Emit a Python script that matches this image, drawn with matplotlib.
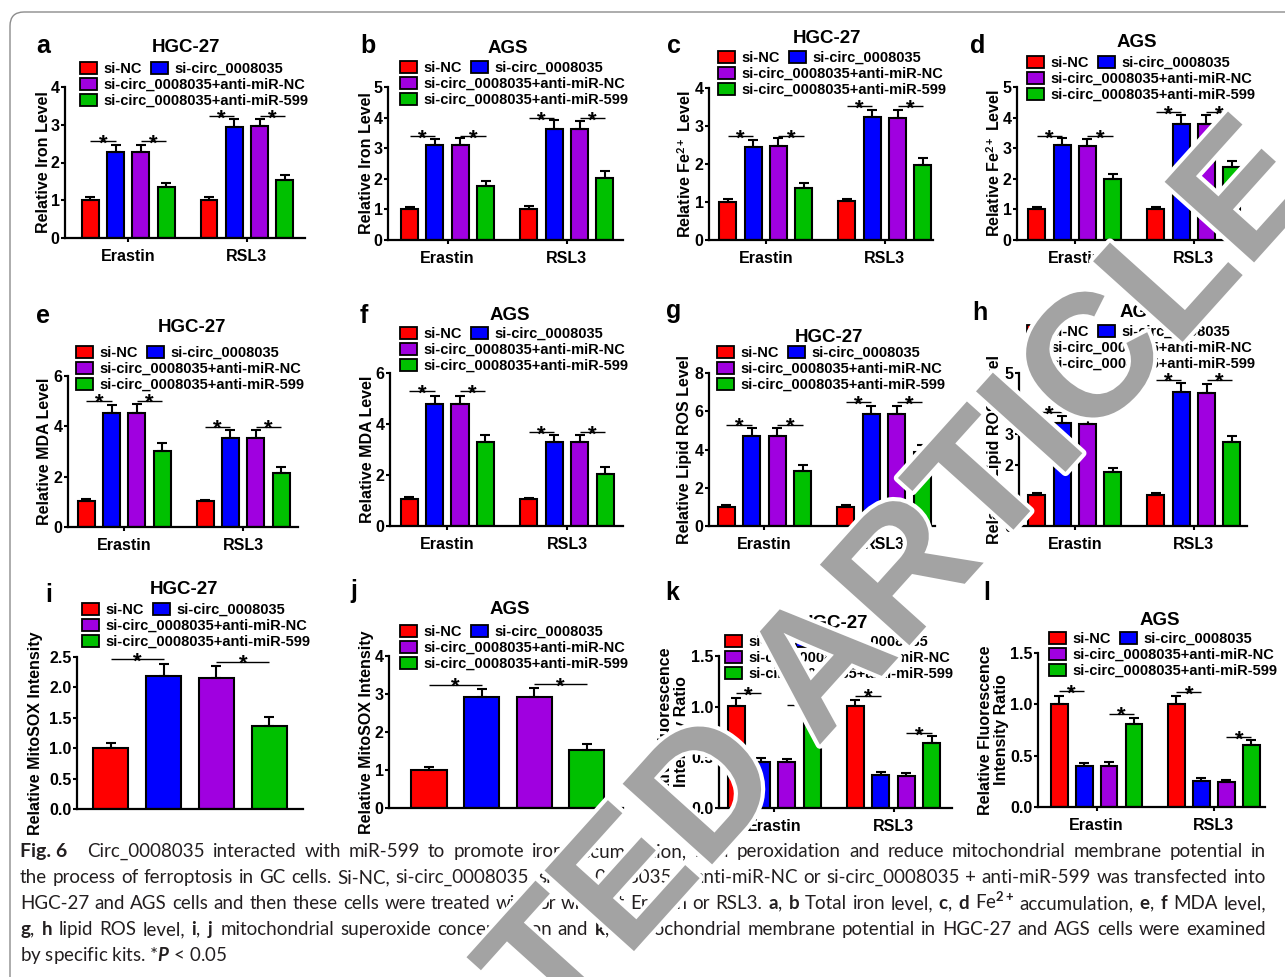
import numpy as np
import matplotlib
matplotlib.use('Agg')
import matplotlib.pyplot as plt
import matplotlib.patheffects as pe
from matplotlib.patches import Rectangle, FancyBboxPatch
from matplotlib.transforms import IdentityTransform

plt.rcParams['font.family'] = ['Liberation Sans', 'DejaVu Sans']
plt.rcParams['font.weight'] = 'bold'
plt.rcParams['mathtext.fontset'] = 'custom'
plt.rcParams['mathtext.rm'] = 'Lato'
plt.rcParams['mathtext.it'] = 'Lato:italic'
plt.rcParams['mathtext.bf'] = 'Lato:bold'

# ---- data ----
groups = ['si-NC', 'si-circ_0008035', 'si-circ_0008035+anti-miR-NC', 'si-circ_0008035+anti-miR-599']
bar_colors = ['#ff0000', '#0000ff', '#a000e0', '#00c000']
treatments = ['Erastin', 'RSL3']

iron_hgc = [1.01, 2.28, 2.29, 1.35, 1.01, 2.95, 2.96, 1.54]
iron_hgc_err = [0.08, 0.18, 0.17, 0.11, 0.07, 0.19, 0.20, 0.14]
iron_hgc_sig = [2.57, 2.57, 3.23, 3.23]

iron_ags = [1.01, 3.10, 3.12, 1.77, 1.01, 3.63, 3.62, 2.03]
iron_ags_err = [0.08, 0.19, 0.21, 0.15, 0.09, 0.28, 0.26, 0.22]
iron_ags_sig = [3.40, 3.40, 3.99, 3.99]

fe_hgc = [1.01, 2.44, 2.48, 1.38, 1.02, 3.23, 3.21, 1.97]
fe_hgc_err = [0.08, 0.20, 0.20, 0.13, 0.06, 0.20, 0.22, 0.18]
fe_hgc_sig = [2.73, 2.73, 3.52, 3.52]

fe_ags = [1.01, 3.10, 3.08, 1.99, 1.01, 3.80, 3.80, 2.38]
fe_ags_err = [0.08, 0.22, 0.22, 0.18, 0.08, 0.27, 0.27, 0.20]
fe_ags_sig = [3.40, 3.40, 4.18, 4.18]

mda_hgc = [1.02, 4.52, 4.54, 3.02, 1.02, 3.55, 3.55, 2.14]
mda_hgc_err = [0.08, 0.33, 0.33, 0.31, 0.06, 0.31, 0.31, 0.26]
mda_hgc_sig = [5.02, 5.02, 3.99, 3.99]

mda_ags = [1.05, 4.78, 4.78, 3.28, 1.05, 3.29, 3.29, 2.04]
mda_ags_err = [0.07, 0.30, 0.30, 0.30, 0.05, 0.29, 0.29, 0.27]
mda_ags_sig = [5.28, 5.28, 3.68, 3.68]

ros_hgc = [1.00, 4.73, 4.73, 2.89, 1.00, 5.85, 5.85, 3.89]
ros_hgc_err = [0.08, 0.42, 0.42, 0.31, 0.08, 0.44, 0.40, 0.33]
ros_hgc_sig = [5.29, 5.29, 6.48, 6.48]

ros_ags = [1.00, 3.35, 3.33, 1.77, 1.00, 4.38, 4.34, 2.76]
ros_ags_err = [0.08, 0.25, 0.25, 0.11, 0.08, 0.29, 0.30, 0.19]
ros_ags_sig = [3.72, 3.72, 4.78, 4.78]

mitosox_hgc = [1.00, 2.18, 2.16, 1.37]
mitosox_hgc_err = [0.08, 0.20, 0.20, 0.14]
mitosox_hgc_sig = [2.46, 2.42]

mitosox_ags = [1.01, 2.91, 2.93, 1.53]
mitosox_ags_err = [0.07, 0.22, 0.22, 0.15]
mitosox_ags_sig = [3.24, 3.26]

mmp_hgc = [1.01, 0.45, 0.45, 0.90, 1.01, 0.33, 0.32, 0.64]
mmp_hgc_err = [0.08, 0.04, 0.03, 0.07, 0.06, 0.03, 0.03, 0.07]
mmp_hgc_sig = [1.13, 1.02, 1.11, 0.74]

mmp_ags = [1.00, 0.40, 0.40, 0.81, 1.00, 0.25, 0.24, 0.60]
mmp_ags_err = [0.08, 0.03, 0.04, 0.06, 0.08, 0.03, 0.02, 0.05]
mmp_ags_sig = [1.13, 0.91, 1.12, 0.68]

caption_lines = [
    "Circ_0008035 interacted with miR-599 to promote iron accumulation, lipid peroxidation and reduce mitochondrial membrane potential in",
    "the process of ferroptosis in GC cells. Si-NC, si-circ_0008035, si-circ_0008035 + anti-miR-NC or si-circ_0008035 + anti-miR-599 was transfected into",
    r"HGC-27 and AGS cells and then these cells were treated with or without Erastin or RSL3. $\mathbf{a}$, $\mathbf{b}$ Total iron level, $\mathbf{c}$, $\mathbf{d}$ Fe$^{2+}$ accumulation, $\mathbf{e}$, $\mathbf{f}$ MDA level,",
    r"$\mathbf{g}$, $\mathbf{h}$ lipid ROS level, $\mathbf{i}$, $\mathbf{j}$ mitochondrial superoxide concentration and $\mathbf{k}$, $\mathbf{l}$ mitochondrial membrane potential in HGC-27 and AGS cells were examined",
    r"by specific kits. *$P$ < 0.05",
]

W, H = 1285, 977
fig = plt.figure(figsize=(W / 100, H / 100), dpi=100)
fig.patch.set_facecolor('white')

bar_x = [0, 1, 2, 3, 4.7, 5.7, 6.7, 7.7]

fe_label = r'Relative Fe$^{\mathbf{2+}}$ Level'
mmp_label = 'Relative Fluorescence\nIntensity Ratio'

panels = [
    dict(letter='a', title='HGC-27', ylabel='Relative Iron Level', vals=iron_hgc, err=iron_hgc_err, sig=iron_hgc_sig,
         ymax=4, step=1, box=(65, 305, 87, 238), xlim=(-1.0, 8.5), lpos=(36, 53), tpos=(186, 52), leg=(80, 68), ylx=48),
    dict(letter='b', title='AGS', ylabel='Relative Iron Level', vals=iron_ags, err=iron_ags_err, sig=iron_ags_sig,
         ymax=5, step=1, box=(388, 623, 87, 240), xlim=(-0.85, 8.41), lpos=(360, 53), tpos=(508, 53), leg=(400, 67), ylx=371),
    dict(letter='c', title='HGC-27', ylabel=fe_label, vals=fe_hgc, err=fe_hgc_err, sig=fe_hgc_sig,
         ymax=4, step=1, box=(709, 933, 88, 240), xlim=(-0.74, 8.1), lpos=(667, 53), tpos=(827, 43), leg=(718, 57), ylx=691),
    dict(letter='d', title='AGS', ylabel=fe_label, vals=fe_ags, err=fe_ags_err, sig=fe_ags_sig,
         ymax=5, step=1, box=(1017, 1247, 87, 240), xlim=(-0.78, 8.3), lpos=(970, 53), tpos=(1137, 47), leg=(1027, 62), ylx=1000),
    dict(letter='e', title='HGC-27', ylabel='Relative MDA Level', vals=mda_hgc, err=mda_hgc_err, sig=mda_hgc_sig,
         ymax=6, step=2, box=(68, 298, 376, 527), xlim=(-0.72, 8.37), lpos=(36, 323), tpos=(192, 332), leg=(76, 352), ylx=49),
    dict(letter='f', title='AGS', ylabel='Relative MDA Level', vals=mda_ags, err=mda_ags_err, sig=mda_ags_sig,
         ymax=6, step=2, box=(390, 623, 373, 526), xlim=(-0.75, 8.4), lpos=(360, 323), tpos=(510, 320), leg=(400, 333), ylx=372),
    dict(letter='g', title='HGC-27', ylabel='Relative Lipid ROS Level', vals=ros_hgc, err=ros_hgc_err, sig=ros_hgc_sig,
         ymax=8, step=2, box=(709, 935, 373, 526), xlim=(-0.68, 8.2), lpos=(666, 318), tpos=(829, 342), leg=(717, 352), ylx=689),
    dict(letter='h', title='AGS', ylabel='Relative Lipid ROS Level', vals=ros_ags, err=ros_ags_err, sig=ros_ags_sig,
         ymax=5, step=1, box=(1019, 1247, 373, 526), xlim=(-0.71, 8.3), lpos=(972, 320), tpos=(1140, 317), leg=(1027, 331), ylx=999),
    dict(letter='i', title='HGC-27', ylabel='Relative MitoSOX Intensity', vals=mitosox_hgc, err=mitosox_hgc_err,
         sig=mitosox_hgc_sig, ymax=2.5, step=0.5, box=(77, 303, 657, 809), xlim=(-0.64, 3.64), lpos=(45, 602),
         tpos=(184, 594), leg=(82, 609), ylx=40),
    dict(letter='j', title='AGS', ylabel='Relative MitoSOX Intensity', vals=mitosox_ags, err=mitosox_ags_err,
         sig=mitosox_ags_sig, ymax=4, step=1, box=(389, 623, 656, 808), xlim=(-0.76, 3.69), lpos=(350, 598),
         tpos=(510, 614), leg=(400, 631), ylx=371),
    dict(letter='k', title='HGC-27', ylabel=mmp_label, vals=mmp_hgc, err=mmp_hgc_err, sig=mmp_hgc_sig,
         ymax=1.5, step=0.5, box=(719, 952, 656, 808), xlim=(-0.67, 8.5), lpos=(665, 600), tpos=(834, 628), leg=(725, 641), ylx=686),
    dict(letter='l', title='AGS', ylabel=mmp_label, vals=mmp_ags, err=mmp_ags_err, sig=mmp_ags_sig,
         ymax=1.5, step=0.5, box=(1038, 1265, 653, 807), xlim=(-0.85, 8.25), lpos=(983, 600), tpos=(1160, 625), leg=(1049, 638), ylx=1006),
]


def fy(y):
    return 1 - y / H


def draw_legend(x0, y0):
    xs = [x0, x0 + 71, x0, x0]
    ys = [y0, y0, y0 + 16, y0 + 32]
    for name, c, xx, yy in zip(groups, bar_colors, xs, ys):
        fig.add_artist(Rectangle((xx / W, fy(yy + 6)), 17 / W, 12 / H, transform=fig.transFigure,
                                 facecolor=c, edgecolor='black', lw=1.3, zorder=5))
        fig.text((xx + 23) / W, fy(yy + 5), name, fontsize=10.5, fontweight='bold', va='baseline', zorder=5)


def draw_panel(p):
    L, R, top, bot = p['box']
    ax = fig.add_axes([L / W, fy(bot), (R - L) / W, (bot - top) / H])
    n = len(p['vals'])
    x = np.array(bar_x[:n])
    ax.bar(x, p['vals'], width=0.67, color=(bar_colors * 2)[:n], edgecolor='black', linewidth=1.5, zorder=2)
    ax.errorbar(x, p['vals'], yerr=[np.zeros(n), p['err']], fmt='none', ecolor='black',
                elinewidth=1.5, capsize=3.3, capthick=1.5, zorder=3)
    for k, h in enumerate(p['sig']):
        x0, x1 = x[2 * k], x[2 * k + 1]
        ax.plot([x0, x1], [h, h], color='black', lw=1.0, solid_capstyle='butt', clip_on=False, zorder=3)
        ax.annotate('*', xy=((x0 + x1) / 2, h), xytext=(0, -6), textcoords='offset points',
                    ha='center', va='baseline', fontsize=16, fontweight='bold')
    ax.set_xlim(p['xlim'])
    ax.set_ylim(0, p['ymax'])
    ticks = np.arange(0, p['ymax'] + 1e-9, p['step'])
    ax.set_yticks(ticks)
    if p['step'] < 1:
        ax.set_yticklabels(['%.1f' % t for t in ticks])
    else:
        ax.set_yticklabels(['%d' % t for t in ticks])
    if n == 8:
        ax.set_xticks([1.5, 6.2])
        ax.set_xticklabels(treatments)
    else:
        ax.set_xticks([])
    ax.tick_params(axis='y', length=3, width=1.5, pad=0.8, labelsize=11.5)
    ax.tick_params(axis='x', length=3, width=1.5, pad=5, labelsize=11.5)
    for s in ['top', 'right']:
        ax.spines[s].set_visible(False)
    for s in ['left', 'bottom']:
        ax.spines[s].set_linewidth(1.6)
    ax.set_ylabel(p['ylabel'], fontsize=11.5, fontweight='bold', linespacing=1.05)
    ax.yaxis.set_label_coords((p['ylx'] + 3 - L) / (R - L), 0.5)
    ax.patch.set_alpha(0)

    fig.text(p['lpos'][0] / W, fy(p['lpos'][1]), p['letter'], fontsize=18, fontweight='bold', va='baseline')
    fig.text(p['tpos'][0] / W, fy(p['tpos'][1]), p['title'], fontsize=13.5, fontweight='bold',
             ha='center', va='baseline')
    draw_legend(*p['leg'])


for p in panels:
    draw_panel(p)

# page frame with rounded corner
fig.add_artist(FancyBboxPatch((10, -60), 1400, H - 12 + 60, boxstyle='round,pad=0,rounding_size=14',
                              transform=IdentityTransform(), fill=False, ec='#8c8c8c', lw=1.0))

# caption, justified like the journal page
renderer = fig.canvas.get_renderer()
starts = [87, 20, 20, 20, 20]
baselines = [857, 883, 909, 935, 961]
right_edge = 1266


def text_width(s, size, **kw):
    t = fig.text(0, 0, s, fontsize=size, fontfamily='Lato', fontweight='normal', **kw)
    w = t.get_window_extent(renderer).width
    t.remove()
    return w


base = 10.0
space_w = text_width('x x', base) - text_width('xx', base)
ratios = []
for i, line in enumerate(caption_lines[:-1]):
    words = line.split(' ')
    natural = sum(text_width(w, base) for w in words) + space_w * (len(words) - 1)
    ratios.append((right_edge - starts[i]) / natural)
cap_size = min(base * min(ratios) * 0.99, 14.5)

cap_kw = dict(fontsize=cap_size, fontfamily='Lato', fontweight='normal', color='#231f20', va='baseline')
fig.text(20 / W, fy(857), 'Fig. 6', fontsize=cap_size + 0.5, fontfamily='Lato', fontweight='bold',
         color='#231f20', va='baseline')
for i, line in enumerate(caption_lines):
    if i == len(caption_lines) - 1:
        fig.text(starts[i] / W, fy(baselines[i]), line, **cap_kw)
        continue
    words = line.split(' ')
    texts = [fig.text(0, fy(baselines[i]), w, **cap_kw) for w in words]
    widths = [t.get_window_extent(renderer).width for t in texts]
    gap = (right_edge - starts[i] - sum(widths)) / (len(words) - 1)
    xx = starts[i]
    for t, w in zip(texts, widths):
        t.set_x(xx / W)
        xx += w + gap

# retraction watermark
fig.text(662 / W, fy(852), 'RETRACTED ARTICLE', rotation=48, rotation_mode='anchor', ha='center', va='center',
         fontsize=126, fontweight='bold', color='#a3a3a3', zorder=20,
         path_effects=[pe.withStroke(linewidth=6, foreground='white')])

fig.savefig('out.png', dpi=100)
